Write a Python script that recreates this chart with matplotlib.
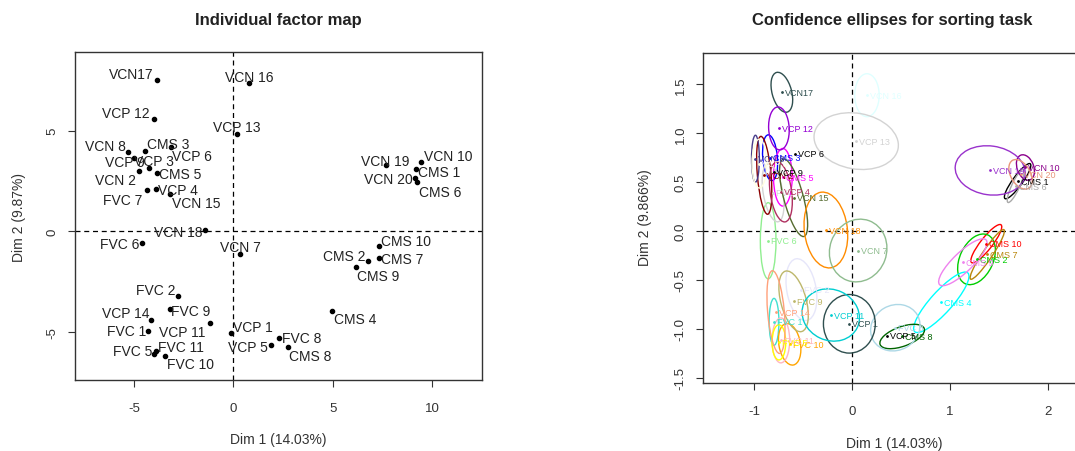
import matplotlib
matplotlib.use("Agg")
import matplotlib.pyplot as plt
from matplotlib.patches import Ellipse

plt.rcParams["font.family"] = ["Liberation Sans", "DejaVu Sans"]
plt.rcParams["axes.unicode_minus"] = False

# individuals, in factor-level order (this is the order the colour palette follows)
labels = ["CMS 1", "CMS 10", "CMS 2", "CMS 3", "CMS 4", "CMS 5", "CMS 6", "CMS 7", "CMS 8", "CMS 9",
          "FVC 1", "FVC 10", "FVC 11", "FVC 2", "FVC 5", "FVC 6", "FVC 7", "FVC 8", "FVC 9",
          "VCN 10", "VCN 15", "VCN 16", "VCN 18", "VCN 19", "VCN 2", "VCN 20", "VCN 7", "VCN 8", "VCN17",
          "VCP 1", "VCP 11", "VCP 12", "VCP 13", "VCP 14", "VCP 3", "VCP 4", "VCP 5", "VCP 6", "VCP 9"]

# individual factor map coordinates
dim1 = [9.15, 7.3, 6.77, -4.44, 4.95, -3.82, 9.22, 7.3, 2.73, 6.18,
        -4.27, -3.42, -3.9, -2.78, -3.97, -4.59, -4.34, 2.3, -3.2,
        9.45, -3.2, 0.79, -1.45, 7.65, -4.76, 9.13, 0.35, -5.28, -3.84,
        -0.13, -1.18, -4.01, 0.19, -4.12, -5.02, -3.89, 1.87, -3.15, -4.22]
dim2 = [3.08, -0.73, -1.5, 3.99, -3.95, 2.89, 2.45, -1.33, -5.77, -1.77,
        -4.95, -6.2, -5.98, -3.21, -6.1, -0.57, 2.03, -5.3, -3.86,
        3.44, 1.84, 7.37, 0.05, 3.28, 3.0, 2.65, -1.13, 3.93, 7.52,
        -5.07, -4.58, 5.57, 4.86, -4.4, 3.63, 2.12, -5.67, 4.17, 3.13]

# confidence ellipse plot: centres, and ellipse width / height / angle (None = not drawn)
ell_x = [1.69, 1.37, 1.27, -0.84, 0.91, -0.71, 1.67, 1.38, 0.51, 1.13,
         -0.80, -0.64, -0.73, -0.52, -0.75, -0.86, -0.81, 0.44, -0.60,
         1.77, -0.60, 0.15, -0.27, 1.41, -0.90, 1.72, 0.06, -0.99, -0.72,
         -0.03, -0.22, -0.75, 0.04, -0.78, -0.95, -0.73, 0.35, -0.59, -0.80]
ell_y = [0.51, -0.13, -0.29, 0.75, -0.73, 0.55, 0.46, -0.24, -1.08, -0.32,
         -0.93, -1.16, -1.12, -0.60, -1.14, -0.10, 0.39, -0.99, -0.72,
         0.65, 0.34, 1.39, 0.01, 0.62, 0.57, 0.58, -0.20, 0.74, 1.42,
         -0.95, -0.86, 1.05, 0.92, -0.83, 0.69, 0.40, -1.07, 0.79, 0.60]
ell_w = [0.44, 0.49, 0.55, 0.15, 0.81, 0.19, 0.37, 0.61, 0.48, 0.66,
         0.10, 0.22, 0.18, 0.30, 0.14, 0.16, 0.20, 0.52, 0.26,
         0.17, 0.20, 0.25, 0.44, 0.72, 0.14, 0.20, 0.58, 0.08, 0.20,
         0.53, 0.60, 0.21, 0.87, 0.17, 0.15, 0.22, None, None, None]
ell_h = [0.10, 0.12, 0.34, 0.47, 0.22, 0.59, 0.08, 0.10, 0.20, 0.20,
         0.48, 0.43, 0.46, 0.64, 0.36, 0.78, 0.60, 0.46, 0.64,
         0.27, 0.82, 0.44, 0.78, 0.50, 0.80, 0.33, 0.65, 0.48, 0.42,
         0.60, 0.52, 0.44, 0.57, 0.85, 0.50, 0.62, None, None, None]
ell_ang = [54, 52, 65, 5, 48, 0, 65, 56, 20, 44,
           0, 10, 0, 10, 0, 0, 10, 30, 15,
           20, 15, 0, 7, -8, 5, 30, -20, 0, 15,
           0, -25, 3, -10, 5, 0, 8, None, None, None]

# FactoMineR default palette (36 colours; later individuals get none)
palette = ["#000000", "#FF0000", "#00CD00", "#0000FF", "#00FFFF", "#FF00FF", "#A9A9A9", "#B8860B",
           "#006400", "#EE82EE", "#40E0D0", "#FFA500", "#FFB6C1", "#E6E6FA", "#FFFF00", "#90EE90",
           "#D3D3D3", "#ADD8E6", "#BDB76B", "#8B008B", "#556B2F", "#E0FFFF", "#FF8C00", "#9932CC",
           "#8B0000", "#E9967A", "#8FBC8F", "#483D8B", "#2F4F4F", "#2F4F4F", "#00CED1", "#9400D3",
           "#D3D3D3", "#FFA07A", "#FFFFE0", "#B03060"]

# label placement on the factor map (ha, dx px, dy px)
lab_pos = [("left", 2.7, -2.7), ("left", 2.4, 5.3), ("right", -2.7, 5.7), ("left", 1.7, 6.7),
           ("left", 2, -8.3), ("left", 2, -1.3), ("left", 2.4, -9.7), ("left", 2.4, -0.7),
           ("left", 1.7, -9), ("left", 0.7, -9),
           ("right", -2.4, 0), ("left", 1.7, -8.3), ("left", 1.7, 4), ("right", -3, 5.3),
           ("right", -2.4, 2.7), ("right", -2.7, -1.7), ("right", -4.5, -9.3), ("left", 2.4, 0),
           ("left", 1, -2),
           ("left", 2.4, 6.3), ("left", 2, -8.7), ("center", 0, 6.3), ("right", -2, -1.7),
           ("center", 0, 4.7), ("right", -2.7, -9), ("right", -2.4, -0.7), ("center", 0, 6.7),
           ("right", -2.4, 6), ("right", -3.8, 6),
           ("left", 1.7, 6), ("right", -4.1, -8.3), ("right", -3.8, 6), ("center", 0, 6.3),
           ("right", -1.7, 6.3), ("center", 20.7, -3), ("left", 1.7, -1), ("right", -3, -1.7),
           ("left", 1, -8.3), ("center", -25, 6)]

W, H = 1075, 452
fig = plt.figure(figsize=(W / 100, H / 100), dpi=100)


def style_axes(ax):
    for s in ax.spines.values():
        s.set_color("#333333")
        s.set_linewidth(1.0)
    ax.tick_params(direction="out", length=5, width=0.8, color="#333333",
                   labelsize=9.5, labelcolor="#333333")
    ax.tick_params(axis="x", pad=10.5)
    ax.tick_params(axis="y", pad=7)
    ax.axhline(0, color="black", lw=0.9, ls=(0, (4, 3)), zorder=1)
    ax.axvline(0, color="black", lw=0.9, ls=(0, (4, 3)), zorder=1)


# ---- left: individual factor map ----
ax1 = fig.add_axes([75 / W, 1 - 381 / H, (482 - 75) / W, (381 - 53.3) / H])
style_axes(ax1)
ax1.set_xlim(-7.96, 12.49)
ax1.set_ylim(-7.4, 8.9)
ax1.set_xticks([-5, 0, 5, 10])
ax1.set_yticks([-5, 0, 5])
ax1.set_xticklabels(["-5", "0", "5", "10"])
ax1.set_yticklabels(["-5", "0", "5"], rotation=90, va="center")
ax1.plot(dim1, dim2, "o", color="black", ms=3, zorder=3)
for lab, x, y, (ha, dx, dy) in zip(labels, dim1, dim2, lab_pos):
    ax1.annotate(lab, (x, y), xytext=(dx, dy), textcoords="offset pixels",
                 ha=ha, va="center", fontsize=10, color="#222222", zorder=4)

fig.text(278 / W, 1 - 20 / H, "Individual factor map", ha="center", va="center",
         fontsize=12, fontweight="bold", color="#222222")
fig.text(278 / W, 1 - 440 / H, "Dim 1 (14.03%)", ha="center", va="center",
         fontsize=10, color="#333333")
fig.text(19 / W, 1 - 217 / H, "Dim 2 (9.87%)", ha="center", va="center",
         rotation=90, fontsize=10, color="#333333")

# ---- right: confidence ellipses ----
ax2 = fig.add_axes([703.3 / W, 1 - 384 / H, (1081 - 703.3) / W, (384 - 54) / H])
style_axes(ax2)
ax2.set_xlim(-1.523, 2.338)
ax2.set_ylim(-1.556, 1.822)
ax2.set_xticks([-1, 0, 1, 2])
ax2.set_xticklabels(["-1", "0", "1", "2"])
yt = [-1.5, -1.0, -0.5, 0.0, 0.5, 1.0, 1.5]
ax2.set_yticks(yt)
ax2.set_yticklabels([f"{v:.1f}" for v in yt], rotation=90, va="center")

for i, lab in enumerate(labels):
    col = palette[i] if i < len(palette) else "black"
    if ell_w[i] is not None:
        ax2.add_patch(Ellipse((ell_x[i], ell_y[i]), ell_w[i], ell_h[i], angle=ell_ang[i],
                              fill=False, edgecolor=col, lw=1.0, zorder=2))
    ax2.plot(ell_x[i], ell_y[i], ".", color=col, ms=2, zorder=3)
    ax2.annotate(lab, (ell_x[i], ell_y[i]), xytext=(3, 0), textcoords="offset pixels",
                 ha="left", va="center", fontsize=6.5, color=col, zorder=4)

fig.text(892 / W, 1 - 20 / H, "Confidence ellipses for sorting task", ha="center", va="center",
         fontsize=12, fontweight="bold", color="#222222")
fig.text(894 / W, 1 - 444 / H, "Dim 1 (14.03%)", ha="center", va="center",
         fontsize=10, color="#333333")
fig.text(645 / W, 1 - 218 / H, "Dim 2 (9.866%)", ha="center", va="center",
         rotation=90, fontsize=10, color="#333333")

fig.savefig("out.png", dpi=100)
